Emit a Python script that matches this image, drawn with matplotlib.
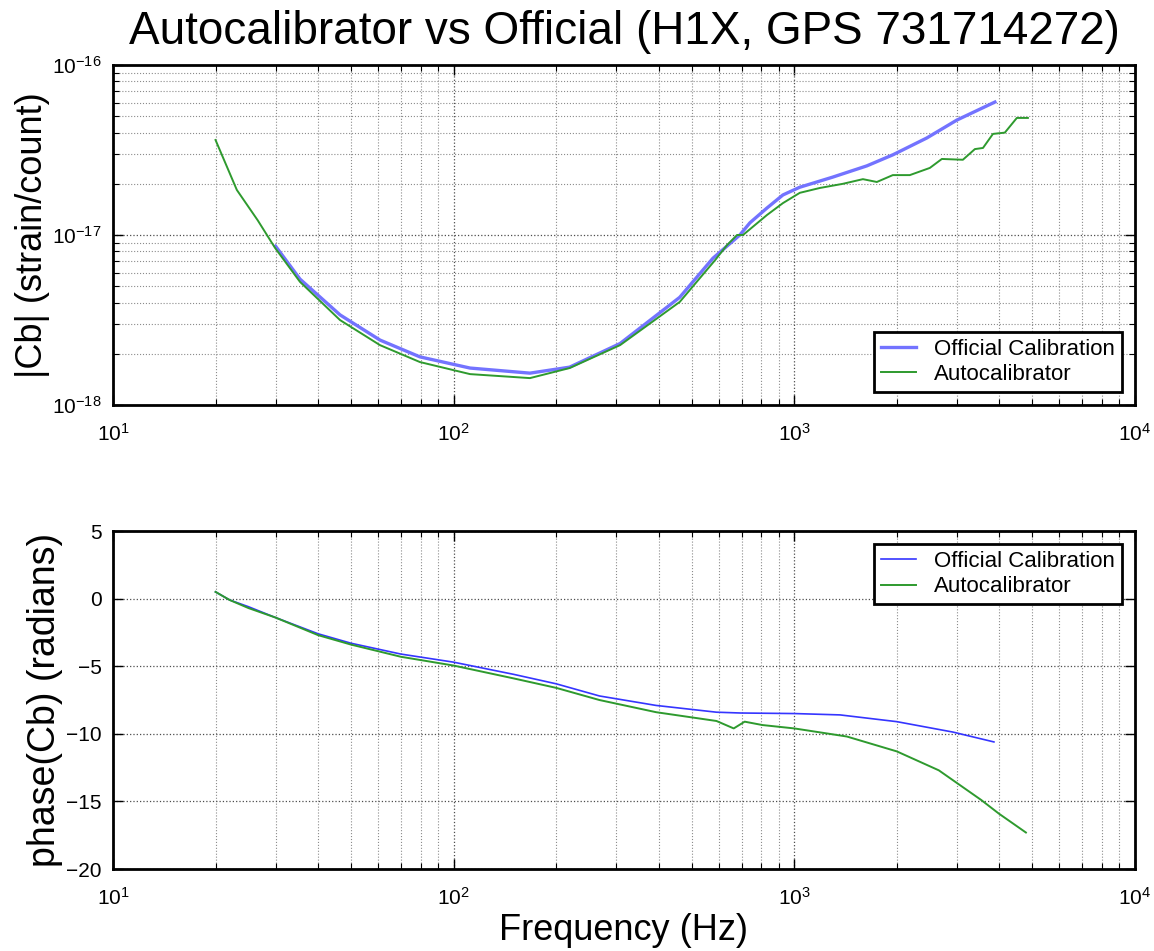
"""
Autocalibrator vs official calibration of the H1X channel: |Cb| and phase(Cb)
"""
import numpy as np
from matplotlib import pyplot as plt
from matplotlib.ticker import LogLocator, NullFormatter, MultipleLocator

plt.rcParams['font.family'] = ['Liberation Sans', 'DejaVu Sans']
plt.rcParams['mathtext.fontset'] = 'custom'
plt.rcParams['mathtext.rm'] = 'Liberation Sans'

# magnitude, official calibration
off_mag_f = [30, 35.4, 46.4, 60.8, 79.6, 111.7, 167.5, 219, 308, 461, 577, 692, 741,
             831, 926, 1038, 1297, 1633, 1946, 2449, 3000, 3880]
off_mag = [8.6e-18, 5.5e-18, 3.39e-18, 2.41e-18, 1.92e-18, 1.65e-18, 1.54e-18, 1.67e-18,
           2.3e-18, 4.3e-18, 7.3e-18, 1.0e-17, 1.18e-17, 1.44e-17, 1.72e-17, 1.91e-17,
           2.19e-17, 2.55e-17, 2.96e-17, 3.72e-17, 4.74e-17, 6.05e-17]

# magnitude, autocalibrator
auto_mag_f = [20, 23.1, 26.6, 29.9, 35.4, 46.4, 60.8, 79.6, 111.7, 167.5, 219, 308, 461,
              585, 634, 679, 707, 831, 926, 1038, 1188, 1389, 1590, 1747, 1946, 2183,
              2500, 2711, 3125, 3389, 3580, 3829, 4150, 4500, 4850]
auto_mag = [3.62e-17, 1.84e-17, 1.22e-17, 8.4e-18, 5.3e-18, 3.16e-18, 2.25e-18, 1.79e-18,
            1.52e-18, 1.44e-18, 1.65e-18, 2.25e-18, 4.04e-18, 7.1e-18, 8.7e-18, 1.0e-17,
            1.0e-17, 1.31e-17, 1.54e-17, 1.77e-17, 1.89e-17, 2.0e-17, 2.13e-17, 2.05e-17,
            2.25e-17, 2.25e-17, 2.48e-17, 2.8e-17, 2.77e-17, 3.2e-17, 3.25e-17, 3.93e-17,
            4.0e-17, 4.88e-17, 4.88e-17]

# phase, official calibration
off_ph_f = [20, 22, 25, 30, 40, 50, 70, 100, 150, 200, 268, 393, 591, 696, 1000, 1362,
            2000, 2922, 3855]
off_ph = [0.5, -0.1, -0.6, -1.4, -2.6, -3.3, -4.1, -4.7, -5.6, -6.3, -7.2, -7.9, -8.4,
          -8.46, -8.5, -8.6, -9.1, -9.87, -10.6]

# phase, autocalibrator
auto_ph_f = [20, 22, 25, 30, 40, 50, 70, 100, 150, 200, 268, 393, 591, 664, 715, 806,
             1000, 1427, 2000, 2656, 3540, 3985, 4785]
auto_ph = [0.5, -0.1, -0.7, -1.4, -2.7, -3.4, -4.3, -4.95, -5.9, -6.6, -7.5, -8.4, -9.05,
           -9.6, -9.1, -9.35, -9.6, -10.2, -11.3, -12.7, -14.9, -15.9, -17.3]


def style_axes(ax):
    ax.set_xscale('log')
    ax.set_xlim(10, 1e4)
    ax.xaxis.set_minor_locator(LogLocator(base=10, subs=np.arange(2, 10)))
    ax.xaxis.set_minor_formatter(NullFormatter())
    ax.grid(True, which='major', linestyle=':', color='0.3', linewidth=0.9)
    ax.grid(True, which='minor', linestyle=':', color='0.55', linewidth=0.8)
    ax.tick_params(which='both', direction='in', top=True, right=True, labelsize=15)
    ax.tick_params(axis='x', which='major', pad=13)
    ax.tick_params(axis='y', which='major', pad=8)
    ax.tick_params(which='major', length=7, width=1)
    ax.tick_params(which='minor', length=4, width=0.8)
    for sp in ax.spines.values():
        sp.set_linewidth(2)


fig = plt.figure(figsize=(11.54, 9.51), dpi=100)
ax1 = fig.add_axes([0.0979, 0.5741, 0.8856, 0.3576])
ax2 = fig.add_axes([0.0979, 0.0862, 0.8856, 0.3554])

# magnitude
ax1.plot(off_mag_f, off_mag, color='#7373ff', lw=2.4, label='Official Calibration')
ax1.plot(auto_mag_f, auto_mag, color='#2e9a2e', lw=1.4, label='Autocalibrator')
ax1.set_yscale('log')
ax1.set_ylim(1e-18, 1e-16)
ax1.yaxis.set_minor_locator(LogLocator(base=10, subs=np.arange(2, 10)))
ax1.yaxis.set_minor_formatter(NullFormatter())
style_axes(ax1)
ax1.set_ylabel('|Cb| (strain/count)', fontsize=26, labelpad=2)
ax1.set_title('Autocalibrator vs Official (H1X, GPS 731714272)', fontsize=33, pad=15)
leg1 = ax1.legend(loc='lower right', fontsize=16, fancybox=False, framealpha=1,
                  edgecolor='black', borderaxespad=0.6, handlelength=1.6,
                  borderpad=0.3, labelspacing=0.2)
leg1.get_frame().set_linewidth(2)

# phase
ax2.plot(off_ph_f, off_ph, color='#3535ff', lw=1.2, label='Official Calibration')
ax2.plot(auto_ph_f, auto_ph, color='#2e9a2e', lw=1.4, label='Autocalibrator')
ax2.set_ylim(-20, 5)
ax2.yaxis.set_major_locator(MultipleLocator(5))
style_axes(ax2)
ax2.set_ylabel('phase(Cb) (radians)', fontsize=27, labelpad=2)
ax2.set_xlabel('Frequency (Hz)', fontsize=26, labelpad=3)
leg2 = ax2.legend(loc='upper right', fontsize=16, fancybox=False, framealpha=1,
                  edgecolor='black', borderaxespad=0.6, handlelength=1.6,
                  borderpad=0.3, labelspacing=0.2)
leg2.get_frame().set_linewidth(2)

plt.savefig('out.png', dpi=100)
